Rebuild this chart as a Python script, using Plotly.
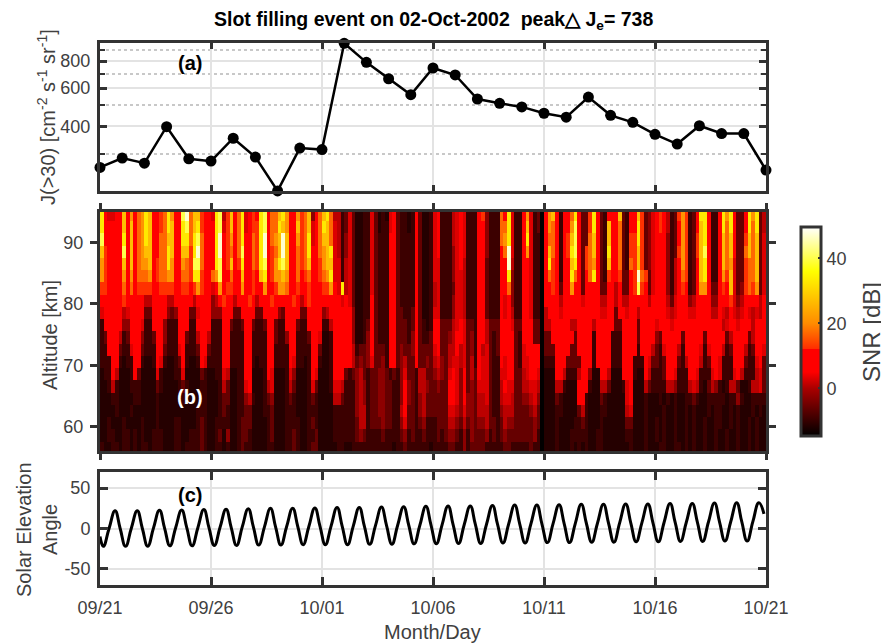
import pandas as pd
import plotly.graph_objects as go

# ---------- Panel (a): flux ----------
flux_dates = pd.date_range("2002-09-21", periods=31, freq="D")
flux_values = [259, 286, 271, 399, 284, 277, 353, 289, 202, 318, 313, 965, 789, 663, 560, 743,
               690, 535, 511, 492, 460, 441, 546, 450, 418, 368, 332, 403, 371, 371, 252]

# ---------- Panel (b): SNR, one character per cell ----------
altitudes = [94.5, 92.5, 90.5, 88.5, 86.5, 84.5, 82.5, 80.5, 78.5, 76.5,
             74.5, 72.5, 70.5, 68.5, 66.5, 64.5, 62.5, 60.5, 58.5, 56.5]
snr_levels = {"0": -14.5, "1": -11.5, "2": -9.5, "3": -6, "4": -2.5, "5": 1, "6": 3, "7": 8, "8": 12.4,
              "9": 17, "a": 21, "b": 27, "c": 33, "d": 40, "e": 47}

snr_sep21 = [
    "c76677b7a79acb7789ca77de9bb877",
    "c77777b7b79acb7789cb77cd9bc877",
    "d77777c7b79acb7799bb77cc9cd977",
    "b87777d7b79abb7799cb77bb8ce977",
    "a87777b7b79aab7899ca77a98dd977",
    "a87777a7a7999a7899aa77998cc877",
    "88777797978888778888778878a877",
    "777777877777557777557777757777",
    "677777567777337777434777336777",
    "277777447776227774222777227777",
    "237775237774223774222773225775",
    "227773226773222773222672223773",
    "222772122772112762112372112762",
    "122751112731111621112261111321",
    "112521112221111321111232111221",
    "111221111221111211111121111221",
    "111121112111111211111111112221",
    "112111211112111211112211112321",
    "112211221212112221112211222321",
    "211221221212212221112212222321",
]
snr_sep26 = [
    "6cd58b79c6787cd799bca77a89b479",
    "7cd68b79c6788cd799cba77b89b679",
    "7ce78a79c7798ce79abeb77a89c679",
    "7ce78979d7798ce789beb77989c779",
    "7cd78b78c7798cd78acdb77989b778",
    "9ad77977b7787bc78aaba779789778",
    "67a78877a77877a778aa9778778777",
    "457877577787577787777787578777",
    "444777337777337777437777337777",
    "222773223773223773227773227777",
    "222772222772222773224772223776",
    "222772222772222772222772222773",
    "222772222772122772222762212772",
    "122651122771112761112641112761",
    "112531122671112561112531112631",
    "112331122452112341112321112321",
    "112321122331112231112221112221",
    "122221123331111231112222112321",
    "123141123321111231112232112231",
    "122121123221111221112232112331",
]
snr_oct01 = [
    "bc9552363112263121673221273112",
    "cb9652363112263122673221273112",
    "bb9652463112263222773222273112",
    "abc652463112263222773222273112",
    "abb662563112263222773222273112",
    "9ac662563112263222773222273112",
    "88a76c563112263222773222273112",
    "777776763112273222773222273112",
    "457777774112273222773322373112",
    "225777774112373222773332373212",
    "112777774112473222773332473223",
    "112777775233473332773433473333",
    "112777775343463342773453373343",
    "112777323453233443232463325533",
    "112665222454233443322474325543",
    "111553222454233443322474324533",
    "111222222455233443322573324533",
    "111222222355233343322463323422",
    "111222222343222232222342322322",
    "111122112222222222212232222221",
]
snr_oct06 = [
    "6722 2567 6222 7842 2297 c622 7a62 30",
    "6722 2567 6222 7742 2299 c622 7b62 30",
    "6722 2567 6222 7742 229a c622 7c62 20",
    "6722 2467 6222 7742 2279 e622 7a62 20",
    "6622 2467 5222 7732 2277 e522 7762 20",
    "6622 2466 5222 7732 2277 c422 7762 20",
    "5622 2366 5222 7732 2277 9422 7762 20",
    "5622 2466 5222 7732 2276 7422 7762 20",
    "6622 2466 5222 7732 2276 7522 7762 20",
    "7733 3567 6332 7753 3377 7633 7773 30",
    "7733 4577 6342 7753 2377 7732 7773 30",
    "6733 5575 6342 7563 2377 7732 6777 70",
    "5643 5665 6352 7663 2276 7732 6677 70",
    "4543 6764 7353 7663 2266 7733 5677 60",
    "3433 7764 7343 6663 2257 6633 5566 50",
    "3333 7764 7443 5563 2256 6533 4456 40",
    "3333 6654 6443 5553 2245 5533 3345 30",
    "2333 5543 5343 4453 3235 4433 3334 30",
    "2323 4432 4243 3342 3234 3333 3334 20",
    "2222 3322 4233 3322 2223 3222 2232 20",
]
snr_oct11 = [
    "7ab72 779c7 338c7 32777 b3277 b8346",
    "7a972 77ad7 338c7 32b77 93277 c8346",
    "79972 78bd7 339b7 32b77 93288 c8346",
    "7b972 78cd7 389b7 32c77 93288 b8346",
    "7c872 77bc7 389a7 32b77 93298 b8346",
    "79872 77c97 379c7 32877 83378 e9836",
    "77873 77a77 37777 33775 73378 d8736",
    "77775 77777 67777 55775 75577 77757",
    "57776 77777 77777 66773 77677 57777",
    "55777 77557 77757 77773 37777 37777",
    "33777 77737 77727 77722 27777 37777",
    "33377 77337 77727 77722 27777 27775",
    "22277 73333 77727 77722 27772 22763",
    "11177 52225 77411 77511 17772 11752",
    "11155 21117 77211 55311 12671 11532",
    "11132 11117 72111 32111 11671 11211",
    "11122 11113 52111 22111 11561 11211",
    "11121 11122 32111 21111 11331 11211",
    "11121 11222 22112 21111 11221 11211",
    "11121 11212 12112 21111 11121 11211",
]
snr_oct16 = [
    "78752 38a82 37cc7 227ca c7337 cac35",
    "78752 37a82 37bc7 227c9 c7337 c9c35",
    "77742 37a82 38bc7 227b9 b7338 b9b36",
    "77742 38a82 38bd7 227b9 b7339 b9b36",
    "77742 57a82 37bc7 227b9 a6338 99b36",
    "77742 57982 37bc7 227a8 b6338 99b36",
    "77742 57872 37aa7 33787 b6348 98a36",
    "77753 67774 57777 44777 86457 77757",
    "77765 67776 67777 55765 76567 65657",
    "67776 77777 77777 77756 77677 75777",
    "43777 77377 77737 77773 57777 35777",
    "32677 75277 77626 77752 37775 23776",
    "32377 73257 77523 77622 27773 22673",
    "22377 62227 76222 67622 26752 22563",
    "22255 42225 65213 54212 55311 25563",
    "12121 21122 32112 22221 22421 12222",
    "11211 21121 21112 12211 21211 12121",
    "21211 21121 21121 12211 21211 21211",
    "21211 21121 21121 12112 11211 21211",
    "12211 22121 21121 12112 11211 21211",
]
snr_blocks = [snr_sep21, snr_sep26, snr_oct01, snr_oct06, snr_oct11, snr_oct16]
snr_dates = pd.date_range("2002-09-21 02:00", periods=180, freq="4h")

# ---------- Panel (c): solar elevation read at troughs, rises, peaks and falls ----------
sun_start = -10
sun_angles = [
    -22, 0, 22, 0,  -22, 0, 22, 0,  -22, .5, 22.5, .5,  -21.5, 1, 23, 1,  -21.5, 1, 23.5, 1,
    -21, 1.5, 24, 1.5,  -21, 2, 24.5, 2,  -20.5, 2, 25, 2,  -20.5, 2.5, 25, 2.5,  -20, 2.5, 25.5, 3,
    -20, 3, 26, 3,  -20, 3, 26, 3,  -19.5, 3.5, 26.5, 3.5,  -19.5, 4, 27, 4,  -19, 4, 27.5, 4.5,
    -19, 4.5, 28, 4.5,  -18.5, 5, 28, 5,  -18.5, 5, 28.5, 5,  -18, 5.5, 29, 5.5,  -18, 5.5, 29, 5.5,
    -17.5, 6, 29.5, 6,  -17.5, 6, 30, 6.5,  -17, 6.5, 30, 6.5,  -17, 7, 30.5, 7,  -16.5, 7, 30.5, 7,
    -16.5, 7.5, 31, 7.5,  -16, 7.5, 31, 8,  -16, 8, 31.5, 8,  -15.5, 8, 32, 8.5,  -15.5, 8.5, 32, 18,
]
sun_hours = [3.6, 9.8, 16.3, 21.8]
sun_ticks = [-50, 0, 50]
sun_tick_labels = ["-50", "0", "50"]

# ---------- Text ----------
title_text = "<b>Slot filling event on 02-Oct-2002\u00a0\u00a0peak\u25B3\u00a0J<sub>e</sub>= 738</b>"
ylabel_a = "J(>30) [cm<sup>-2</sup> s<sup>-1</sup> sr<sup>-1</sup>]"
ylabel_b = "Altitude [km]"
ylabel_c1 = "Solar Elevation"
ylabel_c2 = "Angle"
xlabel = "Month/Day"
cbar_label = "SNR [dB]"

# ---------- Derived ----------
snr_rows = []
for r in range(len(altitudes)):
    chars = ""
    for block in snr_blocks:
        cell = block[r].replace(" ", "")
        chars += (cell + cell[-1] * 30)[:30]
    snr_rows.append([snr_levels[c] for c in chars])

sun_x = [pd.Timestamp("2002-09-21")]
sun_y = [sun_start]
for i, v in enumerate(sun_angles):
    sun_x.append(pd.Timestamp("2002-09-21") + pd.Timedelta(days=i // 4, hours=sun_hours[i % 4]))
    sun_y.append(v)

W, H = 889, 644
OFF = 8  # the page sits 8 px in from the window corner
FRAME = "#333333"
TXT = "#404040"
GRID = "#e3e3e3"
FONT = "Liberation Sans, Arial, Helvetica, sans-serif"
TICK_SIZE = 18
LABEL_SIZE = 20
X0, X1 = 100 - OFF, 766 - OFF
dom_x = [X0 / W, X1 / W]
def dom_y(top, bot):
    return [1 - (bot - OFF) / H, 1 - (top - OFF) / H]

zmin, zmax = -14.7, 49.6
def norm(v):
    return (v - zmin) / (zmax - zmin)
cscale = [
    [0, "rgb(0,0,0)"], [norm(0), "rgb(170,0,0)"], [norm(5), "rgb(255,0,0)"], [norm(12), "rgb(255,0,0)"],
    [norm(12.05), "rgb(255,45,0)"], [norm(20), "rgb(255,140,0)"], [norm(36), "rgb(255,255,0)"],
    [1, "rgb(255,255,255)"],
]

fig = go.Figure()
fig.add_trace(go.Scatter(x=flux_dates, y=flux_values, mode="lines+markers", xaxis="x", yaxis="y",
                         line=dict(color="black", width=2.5), marker=dict(color="black", size=11),
                         cliponaxis=False, showlegend=False))
fig.add_trace(go.Heatmap(x=snr_dates, y=altitudes, z=snr_rows, xaxis="x2", yaxis="y2",
                         zmin=zmin, zmax=zmax, colorscale=cscale, showscale=True,
                         colorbar=dict(x=(801 - OFF) / W, xanchor="left", xpad=0, y=1 - (331.5 - OFF) / H, yanchor="middle",
                                       len=209 / H, lenmode="fraction", ypad=0, thickness=20, thicknessmode="pixels",
                                       outlinewidth=3, outlinecolor=FRAME, ticks="inside", ticklen=4, tickwidth=2,
                                       tickcolor=FRAME, tickvals=[0, 20, 40],
                                       tickfont=dict(size=TICK_SIZE, color=TXT, family=FONT))))
fig.add_trace(go.Scatter(x=sun_x, y=sun_y, mode="lines", xaxis="x3", yaxis="y3",
                         line=dict(color="black", width=3, shape="spline", smoothing=1.3), showlegend=False))

date_rng = ["2002-09-21", "2002-10-21"]
def xax(domain_anchor, **kw):
    base = dict(type="date", domain=dom_x, range=date_rng, anchor=domain_anchor, tick0="2002-09-21",
                dtick=5 * 86400000, tickformat="%m/%d", showline=True, linecolor=FRAME, linewidth=3,
                mirror="allticks", tickcolor=FRAME, tickwidth=3, ticklen=6, ticks="inside",
                showgrid=True, gridcolor=GRID, gridwidth=2, zeroline=False, showticklabels=False)
    base.update(kw)
    return base
def yax(top, bot, **kw):
    base = dict(domain=dom_y(top, bot), showline=True, linecolor=FRAME, linewidth=3, mirror="allticks",
                tickcolor=FRAME, tickwidth=3, ticklen=7, ticks="inside", showgrid=True, gridcolor=GRID,
                gridwidth=2, zeroline=False, tickfont=dict(size=TICK_SIZE, color=TXT, family=FONT),
                ticklabelstandoff=3)
    base.update(kw)
    return base

fig.update_layout(
    width=W, height=H, margin=dict(l=0, r=0, t=0, b=0, autoexpand=False), paper_bgcolor="white", plot_bgcolor="white",
    showlegend=False, font=dict(family=FONT, color=TXT),
    xaxis=xax("y"),
    yaxis=yax(43, 191, type="log", range=[2.305, 2.986], tickmode="array", tickvals=[400, 600, 800],
              minor=dict(tickmode="array", tickvals=[300, 500, 700, 900], showgrid=True, gridcolor="#c8c8c8",
                         griddash="dot", gridwidth=2, ticks="inside", ticklen=5, tickcolor=FRAME, tickwidth=2)),
    xaxis2=xax("y2", ticks="outside", showgrid=False),
    yaxis2=yax(212, 451, range=[56, 95], tickvals=[60, 70, 80, 90], ticks="outside", showgrid=False),
    xaxis3=xax("y3", showticklabels=True, tickfont=dict(size=TICK_SIZE, color=TXT, family=FONT), ticklen=8,
               ticklabelstandoff=4),
    yaxis3=yax(472, 585, range=[-70, 70], tickmode="array", tickvals=sun_ticks, ticktext=sun_tick_labels, ticklen=8),
)

def note(x, y, text, size=LABEL_SIZE, color=TXT, angle=0):
    fig.add_annotation(xref="paper", yref="paper", x=(x - OFF) / W, y=1 - (y - OFF) / H, text=text, showarrow=False,
                       font=dict(size=size, color=color, family=FONT), textangle=angle,
                       xanchor="center", yanchor="middle")

note(433, 20, title_text, size=19.5, color="black")
note(47, 117, ylabel_a, angle=-90)
note(50, 335, ylabel_b, angle=-90)
note(24, 530, ylabel_c1, angle=-90)
note(50, 530, ylabel_c2, angle=-90)
note(432, 632, xlabel)
note(872, 332, cbar_label, size=24, angle=-90)
note(190, 63, "<b>(a)</b>", color="black")
note(190, 397, "<b>(b)</b>", color="white")
note(190, 495, "<b>(c)</b>", color="black")

fig.write_html("out.html")
